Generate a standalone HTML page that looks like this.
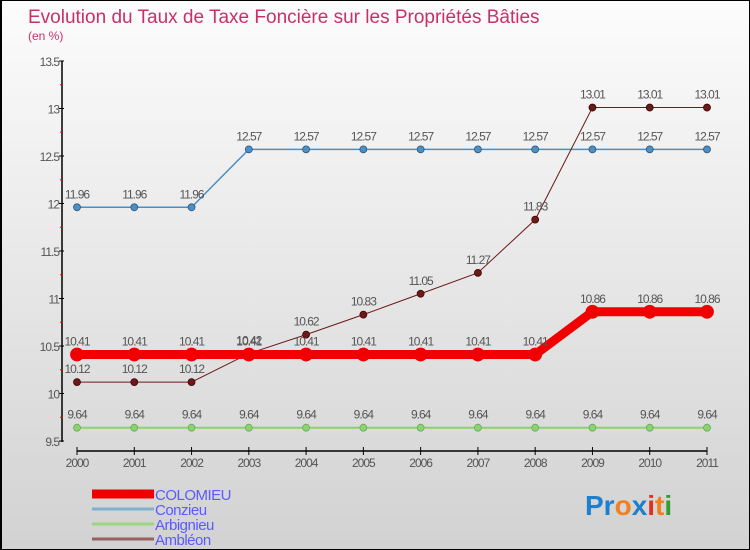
<!DOCTYPE html>
<html><head><meta charset="utf-8"><style>
body{margin:0;}
#wrap{position:relative;width:750px;height:550px;box-sizing:border-box;border:1px solid #000;border-left-width:2px;background:linear-gradient(#fcfcfc,#d2d2d2);font-family:"Liberation Sans",sans-serif;overflow:hidden}
svg{position:absolute;left:0;top:0}
</style></head><body>
<div id="wrap">
<svg id="c" width="750" height="550">
<text x="26" y="22" font-size="19" fill="#c8306a">Evolution du Taux de Taxe Foncière sur les Propriétés Bâties</text>
<text x="26" y="39" font-size="12" fill="#c8306a">(en %)</text>
</svg>
</div>
<script>
const years=[2000,2001,2002,2003,2004,2005,2006,2007,2008,2009,2010,2011];
const yTicks=[9.5,10,10.5,11,11.5,12,12.5,13,13.5];
const yTickLabels=["9.5","10","10.5","11","11.5","12","12.5","13","13.5"];
const colomieu=[10.41,10.41,10.41,10.41,10.41,10.41,10.41,10.41,10.41,10.86,10.86,10.86];
const conzieu=[11.96,11.96,11.96,12.57,12.57,12.57,12.57,12.57,12.57,12.57,12.57,12.57];
const arbignieu=[9.64,9.64,9.64,9.64,9.64,9.64,9.64,9.64,9.64,9.64,9.64,9.64];
const ambleon=[10.12,10.12,10.12,10.42,10.62,10.83,11.05,11.27,11.83,13.01,13.01,13.01];
const seriesNames=["COLOMIEU","Conzieu","Arbignieu","Ambléon"];
const NS="http://www.w3.org/2000/svg";
const svg=document.getElementById('c');
const x=i=>75+i*(630/(years.length-1));
const y=v=>440-(v-9.5)*95;
function mk(t,a,p){const e=document.createElementNS(NS,t);for(const k in a)e.setAttribute(k,a[k]);(p||svg).appendChild(e);return e;}
let ax=mk('line',{x1:60,y1:60,x2:60,y2:441,stroke:'#000','stroke-width':1.5});


yTicks.forEach((v,i)=>{
 mk('line',{x1:57,x2:62,y1:y(v),y2:y(v),stroke:'#000'});
 if(i<yTicks.length-1) mk('line',{x1:58,x2:61,y1:y(v+0.25),y2:y(v+0.25),stroke:'#e00'});
 const t=mk('text',{x:57,y:y(v)+5,'font-size':12,fill:'#555','text-anchor':'end','letter-spacing':'-1'});
 t.textContent=yTickLabels[i];
 
 
});
let xa=mk('line',{x1:75,x2:705,y1:450,y2:450,stroke:'#000','stroke-width':1.5});


years.forEach((yr,i)=>{
 mk('line',{x1:x(i),x2:x(i),y1:446,y2:454,stroke:'#000'});
 const t=mk('text',{x:x(i),y:466,'font-size':12,fill:'#555','text-anchor':'middle','letter-spacing':'-1'});
 t.textContent=yr;
 
 
});
function series(d,color,w,r,name,dark){
 const g=mk('g',{});
 
 
 mk('polyline',{points:d.map((v,i)=>x(i)+','+y(v)).join(' '),fill:'none',stroke:color,'stroke-width':w},g);
 d.forEach((v,i)=>{
  const c=mk('circle',{cx:x(i),cy:y(v),r:r,fill:color,stroke:dark,'stroke-width':0.8},g);
  
  
  const t=mk('text',{x:x(i),y:y(v)-9,'font-size':12,fill:'#555','text-anchor':'middle','letter-spacing':'-1'},g);
  t.textContent=v.toFixed(2).replace(/0$/,'');
  
  
 });
}
series(arbignieu,'#8ed36a',2,3.5,'arbignieu','#6a6');
series(conzieu,'#4a90c8',1.5,3.5,'conzieu','#357');
series(ambleon,'#6b1a1a',1,3.5,'ambleon','#400');
series(colomieu,'#f00000',9,6.5,'colomieu','#f00000');
const lc=['#f00000','#7fb0d0','#9ed67f','#9a6060'],lw=[9,3,3,3];
seriesNames.forEach((n,i)=>{
 const yy=493+i*15;
 mk('line',{x1:90,x2:152,y1:yy,y2:yy,stroke:lc[i],'stroke-width':lw[i]});
 const t=mk('text',{x:153,y:yy+6,'font-size':15,fill:'#5a5aff','letter-spacing':'-0.5'});
 t.textContent=n;
 
 
});
const logo=mk('text',{x:583,y:514,'font-size':28,'font-weight':'bold'});


[['Pr','#1e7fcf'],['o','#f08020'],['x','#1e7fcf'],['i','#e03020'],['t','#f08020'],['i','#30a030']].forEach(([s,c])=>{const ts=mk('tspan',{fill:c},logo);ts.textContent=s;});
</script>
</body></html>
